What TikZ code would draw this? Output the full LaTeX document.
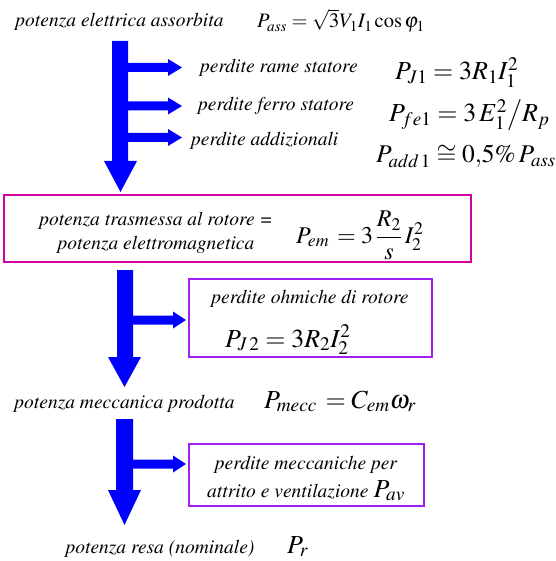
\documentclass[tikz,border=0pt]{standalone}
\usepackage[T1]{fontenc}
\usepackage{mathptmx}
\definecolor{ablue}{RGB}{0,0,255}
\definecolor{pinkc}{RGB}{210,0,160}
\definecolor{purplec}{RGB}{160,32,240}
\newcommand{\fatright}[4]{%
  \fill[ablue] (#1,#2-4.5) -- (#3,#2-4.5) -- (#3,#2-8.5) -- (#4,#2) -- (#3,#2+8.5) -- (#3,#2+4.5) -- (#1,#2+4.5) -- cycle;}
\newcommand{\fatdown}[8]{% xl, xr, ytop, yhead, hl, hr, xtip, ytip
  \fill[ablue] (#1,#3) -- (#2,#3) -- (#2,#4) -- (#6,#4) -- (#7,#8) -- (#5,#4) -- (#1,#4) -- cycle;}
\begin{document}
\begin{tikzpicture}[x=1pt,y=-1pt,
  txt/.style={font=\fontsize{19.5}{24}\selectfont\itshape, inner sep=0pt},
  frm/.style={font=\fontsize{26}{30}\selectfont, inner sep=0pt},
  frmm/.style={font=\fontsize{24}{28}\selectfont, inner sep=0pt},
  frms/.style={font=\fontsize{20.5}{24}\selectfont, inner sep=0pt},
  pinkbox/.style={draw=pinkc, line width=2.2pt},
  purplebox/.style={draw=purplec, line width=2.2pt}]
\useasboundingbox (0,0) rectangle (555,561);

% top
\node[txt, anchor=base] (t1) at (119.5,27) {potenza elettrica assorbita};
\node[frms, anchor=base west] (f1) at (257,28) {$P_{ass} = \sqrt{3}V_1 I_1 \cos\varphi_1$};

% arrow 1
\fatdown{112}{128}{41}{161}{104}{137}{120.5}{192}
\fatright{127}{67.5}{168}{182}
\fatright{127}{106}{168}{182}
\fatright{127}{137.5}{168}{182}

\node[txt, anchor=base west] (l1) at (200,73) {perdite rame statore};
\node[frm, anchor=base west] (f2) at (395,80) {$P_{J1} = 3R_1 I_1^2$};
\node[txt, anchor=base west] (l2) at (198,111) {perdite ferro statore};
\node[frm, anchor=base west] (f3) at (389,122) {$P_{fe1} = 3\,E_1^2\big/R_p$};
\node[txt, anchor=base west] (l3) at (191,146) {perdite addizionali};
\node[frm, font=\fontsize{25.5}{30}\selectfont, anchor=base west] (f4) at (376,163) {$P_{add\,1} \cong 0{,}5\%\,P_{ass}$};

% pink box
\draw[pinkbox] (4,195) rectangle (471,262);
\node[txt, align=center, anchor=center] (b1) at (156,233) {potenza trasmessa al rotore =\\ potenza elettromagnetica};
\node[frmm, anchor=base west] (f5) at (296,243) {$P_{em}\, = 3\,{\displaystyle\frac{R_2}{s}}\,I_2^2$};

% arrow 2
\fatdown{117}{133}{270}{357}{108}{141}{124.5}{387}
\fatright{132}{320}{173}{186}
\draw[purplebox] (189,279) rectangle (432,357);
\node[txt, anchor=base] (l4) at (310,303) {perdite ohmiche di rotore};
\node[frm, anchor=base west] (f6) at (225,347) {$P_{J\,2} = 3R_2 I_2^2$};

% mechanical
\node[txt, anchor=base] (t2) at (124.5,408) {potenza meccanica prodotta};
\node[frm, anchor=base west] (f7) at (264,408) {$P_{mecc}\, = C_{em}\omega_r$};

% arrow 3
\fatdown{116}{133}{419}{490}{108}{141}{124.5}{525}
\fatright{132}{464}{173}{186}
\draw[purplebox] (189,444) rectangle (424,506);
\node[txt, anchor=base] (l5) at (306,469) {perdite meccaniche per};
\node[txt, anchor=base] (l6) at (306,497) {attrito e ventilazione {\fontsize{26}{30}\selectfont\upshape $P_{av}$}};

% output
\node[txt, anchor=base] (t3) at (160,553) {potenza resa (nominale)};
\node[frm, anchor=base west] (f8) at (287,553) {$P_r$};
\end{tikzpicture}
\end{document}
